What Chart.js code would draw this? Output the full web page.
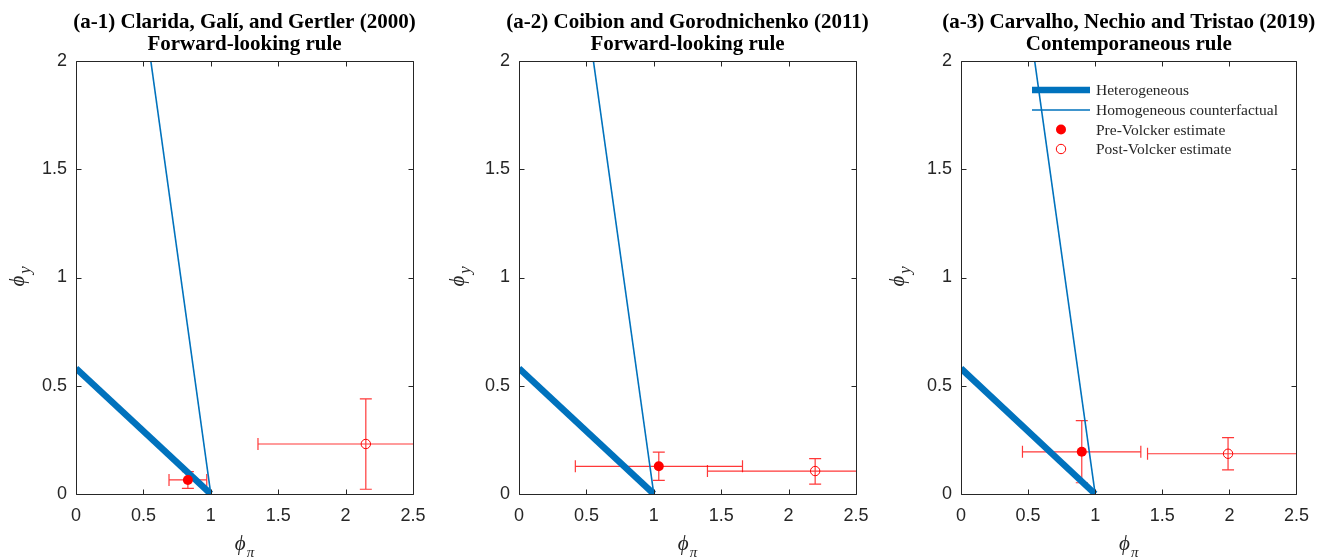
<!DOCTYPE html>
<html><head><meta charset="utf-8">
<script src="https://cdn.jsdelivr.net/npm/chart.js@4/dist/chart.umd.min.js"></script>
<style>
html,body{margin:0;padding:0;background:#fff}
body{width:1320px;height:560px;overflow:hidden;position:relative}
.p{position:absolute;top:0;height:560px}
</style></head><body>
<div class="p" style="left:0;width:440px"><canvas id="c0"></canvas></div>
<div class="p" style="left:440px;width:440px"><canvas id="c1"></canvas></div>
<div class="p" style="left:880px;width:440px"><canvas id="c2"></canvas></div>
<script>
// ---------- data ----------
const xTicks = [0, 0.5, 1, 1.5, 2, 2.5];
const yTicks = [0, 0.5, 1, 1.5, 2];
const titleLine1 = ["(a-1) Clarida, Galí, and Gertler (2000)", "(a-2) Coibion and Gorodnichenko (2011)", "(a-3) Carvalho, Nechio and Tristao (2019)"];
const titleLine2 = ["Forward-looking rule", "Forward-looking rule", "Contemporaneous rule"];
const seriesLabels = ["Heterogeneous", "Homogeneous counterfactual", "Pre-Volcker estimate", "Post-Volcker estimate"];
// Heterogeneous determinacy frontier (start, end)
const heteroX = [[0, 1], [0, 1], [0, 1]];
const heteroY = [[0.58, 0], [0.58, 0], [0.58, 0]];
// Homogeneous counterfactual frontier
const homogX = [[0.555, 1], [0.552, 1], [0.549, 1]];
const homogY = [[2, 0], [2, 0], [2, 0]];
// Pre-Volcker estimates
const preX = [0.83, 1.037, 0.90];
const preY = [0.065, 0.128, 0.195];
const preXlo = [0.69, 0.418, 0.458];
const preXhi = [0.97, 1.658, 1.34];
const preYlo = [0.026, 0.063, 0.052];
const preYhi = [0.103, 0.193, 0.339];
// Post-Volcker estimates
const postX = [2.15, 2.197, 1.99];
const postY = [0.231, 0.106, 0.186];
const postXlo = [1.35, 1.398, 1.39];
const postXhi = [2.95, 3.0, 2.59];
const postYlo = [0.022, 0.046, 0.111];
const postYhi = [0.439, 0.163, 0.26];

// ---------- layout / style ----------
const BLUE = '#0072BD';
const RED = '#ff0000';
const ERR = 'rgba(255,0,0,0.78)';
const AX = '#262626';
const leftW = [76, 79, 81];
const rightPad = [27, 24, 22];
const TOP = 61, XH = 66;
const SERIF = '"Liberation Serif","Times New Roman","DejaVu Serif",serif';
const SANS = '"Liberation Sans",Arial,Helvetica,sans-serif';

function errorPlugin(i) {
  return {
    id: 'deco' + i,
    beforeDatasetsDraw(chart) {
      const ctx = chart.ctx, xs = chart.scales.x, ys = chart.scales.y, a = chart.chartArea;
      ctx.save();
      ctx.beginPath(); ctx.rect(a.left, a.top, a.right - a.left, a.bottom - a.top); ctx.clip();
      ctx.strokeStyle = ERR; ctx.lineWidth = 1.2;
      const cap = 6;
      const bars = [
        [preX[i], preY[i], preXlo[i], preXhi[i], preYlo[i], preYhi[i]],
        [postX[i], postY[i], postXlo[i], postXhi[i], postYlo[i], postYhi[i]]
      ];
      for (const [x, y, xl, xh, yl, yh] of bars) {
        const px = xs.getPixelForValue(x), py = ys.getPixelForValue(y);
        const pxl = xs.getPixelForValue(xl), pxh = xs.getPixelForValue(xh);
        const pyl = ys.getPixelForValue(yl), pyh = ys.getPixelForValue(yh);
        ctx.beginPath();
        ctx.moveTo(pxl, py); ctx.lineTo(pxh, py);
        ctx.moveTo(pxl, py - cap); ctx.lineTo(pxl, py + cap);
        ctx.moveTo(pxh, py - cap); ctx.lineTo(pxh, py + cap);
        ctx.moveTo(px, pyl); ctx.lineTo(px, pyh);
        ctx.moveTo(px - cap, pyl); ctx.lineTo(px + cap, pyl);
        ctx.moveTo(px - cap, pyh); ctx.lineTo(px + cap, pyh);
        ctx.stroke();
      }
      ctx.restore();
    },
    afterDraw(chart) {
      const ctx = chart.ctx, xs = chart.scales.x, ys = chart.scales.y, a = chart.chartArea;
      ctx.save();
      // box and inward ticks
      ctx.strokeStyle = AX; ctx.lineWidth = 1;
      const L = Math.round(a.left) + 0.5, R = Math.round(a.right) + 0.5, T = Math.round(a.top) + 0.5, B = Math.round(a.bottom) + 0.5;
      ctx.beginPath(); ctx.rect(L, T, R - L, B - T); ctx.stroke();
      ctx.beginPath();
      const tl = 5;
      for (const v of xTicks) {
        const p = Math.round(xs.getPixelForValue(v)) + 0.5;
        ctx.moveTo(p, B); ctx.lineTo(p, B - tl);
        ctx.moveTo(p, T); ctx.lineTo(p, T + tl);
      }
      for (const v of yTicks) {
        const p = Math.round(ys.getPixelForValue(v)) + 0.5;
        ctx.moveTo(L, p); ctx.lineTo(L + tl, p);
        ctx.moveTo(R, p); ctx.lineTo(R - tl, p);
      }
      ctx.stroke();
      // titles
      const cx = (a.left + a.right) / 2;
      ctx.fillStyle = '#000';
      ctx.font = 'bold 21px ' + SERIF;
      ctx.textAlign = 'center'; ctx.textBaseline = 'alphabetic';
      ctx.fillText(titleLine1[i], cx, 28);
      ctx.fillText(titleLine2[i], cx, 50);
      // x label
      ctx.fillStyle = AX;
      ctx.textAlign = 'left';
      ctx.font = 'italic 21px ' + SERIF;
      const wphi = ctx.measureText('\u03D5').width;
      ctx.font = 'italic 15px ' + SERIF;
      const wpi = ctx.measureText('\u03C0').width;
      let sx = cx - (wphi + wpi + 1) / 2;
      ctx.font = 'italic 21px ' + SERIF;
      ctx.fillText('\u03D5', sx, 550);
      ctx.font = 'italic 15px ' + SERIF;
      ctx.fillText('\u03C0', sx + wphi + 1, 557);
      // y label
      ctx.save();
      ctx.translate(24, (a.top + a.bottom) / 2 - 2);
      ctx.rotate(-Math.PI / 2);
      ctx.font = 'italic 21px ' + SERIF;
      const wy = ctx.measureText('y').width;
      sx = -(wphi + wy + 2) / 2;
      ctx.fillText('\u03D5', sx, 0);
      ctx.font = 'italic 17px ' + SERIF;
      ctx.fillText('y', sx + wphi + 2, 6);
      ctx.restore();
      // legend (panel 3)
      if (i === 2) {
        const ds = chart.data.datasets;
        const lx0 = 152, lx1 = 210, mx = 181, tx = 216;
        const rows = [90, 110, 129.5, 149];
        ctx.font = '15.5px ' + SERIF;
        ctx.fillStyle = AX;
        ctx.textBaseline = 'middle';
        for (let k = 0; k < 4; k++) {
          const y = rows[k], d = ds[k];
          if (k < 2) {
            ctx.strokeStyle = d.borderColor; ctx.lineWidth = d.borderWidth;
            ctx.beginPath(); ctx.moveTo(lx0, y); ctx.lineTo(lx1, y); ctx.stroke();
          } else {
            ctx.beginPath(); ctx.arc(mx, y, d.pointRadius, 0, Math.PI * 2);
            if (k === 2) { ctx.fillStyle = RED; ctx.fill(); }
            else { ctx.strokeStyle = RED; ctx.lineWidth = 1; ctx.stroke(); }
          }
          ctx.fillStyle = AX;
          ctx.fillText(d.label, tx, y + 1);
        }
      }
      ctx.restore();
    }
  };
}

function makeChart(i) {
  const pts = (xa, ya) => xa.map((x, k) => ({ x, y: ya[k] }));
  return new Chart(document.getElementById('c' + i), {
    type: 'scatter',
    data: {
      datasets: [
        { label: seriesLabels[0], data: pts(heteroX[i], heteroY[i]), showLine: true, borderColor: BLUE, backgroundColor: BLUE, borderWidth: 6.5, pointRadius: 0, order: 3 },
        { label: seriesLabels[1], data: pts(homogX[i], homogY[i]), showLine: true, borderColor: BLUE, backgroundColor: BLUE, borderWidth: 1.6, pointRadius: 0, order: 2 },
        { label: seriesLabels[2], data: [{ x: preX[i], y: preY[i] }], borderColor: RED, backgroundColor: RED, pointRadius: 5, pointBorderWidth: 0, order: 1 },
        { label: seriesLabels[3], data: [{ x: postX[i], y: postY[i] }], borderColor: RED, backgroundColor: 'rgba(0,0,0,0)', pointRadius: 4.7, pointBorderWidth: 1, order: 0 }
      ]
    },
    options: {
      responsive: true, maintainAspectRatio: false, animation: false,
      layout: { padding: { top: TOP, right: rightPad[i], left: 0, bottom: 0 } },
      plugins: { legend: { display: false }, tooltip: { enabled: false }, title: { display: false } },
      scales: {
        x: {
          type: 'linear', min: 0, max: 2.5,
          afterBuildTicks: s => { s.ticks = xTicks.map(v => ({ value: v })); },
          afterFit: s => { s.height = XH; },
          grid: { display: false, drawTicks: false },
          border: { display: false },
          ticks: { color: AX, font: { family: SANS, size: 18 }, padding: 11, maxRotation: 0, autoSkip: false, callback: v => String(v) }
        },
        y: {
          type: 'linear', min: 0, max: 2,
          afterBuildTicks: s => { s.ticks = yTicks.map(v => ({ value: v })); },
          afterFit: s => { s.width = leftW[i]; },
          grid: { display: false, drawTicks: false },
          border: { display: false },
          ticks: { color: AX, font: { family: SANS, size: 18 }, padding: 9, autoSkip: false, callback: v => String(v) }
        }
      }
    },
    plugins: [errorPlugin(i)]
  });
}
for (let i = 0; i < 3; i++) makeChart(i);
</script>
</body></html>
